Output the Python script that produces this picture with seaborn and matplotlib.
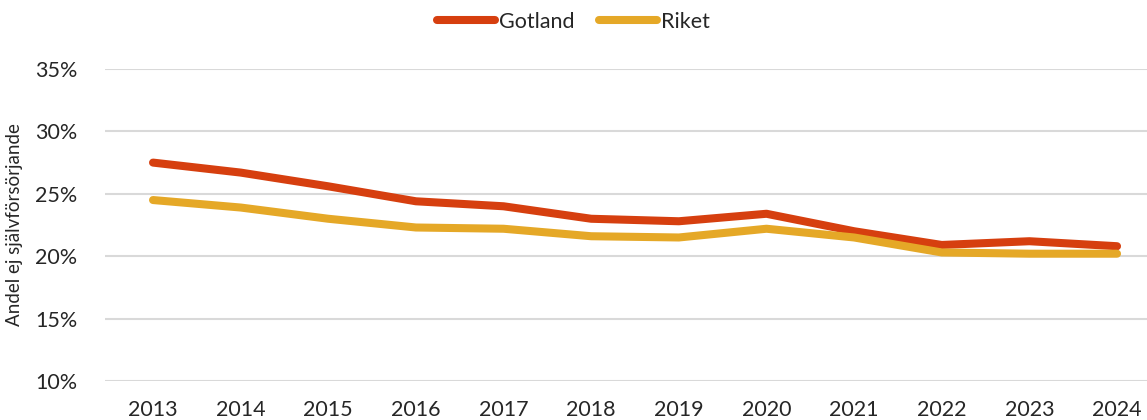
import matplotlib
matplotlib.use("Agg")
import matplotlib.pyplot as plt
from matplotlib.lines import Line2D
import pandas as pd
import seaborn as sns

years = [2013, 2014, 2015, 2016, 2017, 2018, 2019, 2020, 2021, 2022, 2023, 2024]
gotland = [27.5, 26.7, 25.6, 24.4, 24.0, 23.0, 22.8, 23.4, 22.0, 20.9, 21.2, 20.8]
riket = [24.5, 23.9, 23.0, 22.3, 22.2, 21.6, 21.5, 22.2, 21.5, 20.3, 20.2, 20.2]
series_names = ["Gotland", "Riket"]
colors = ["#D63F0F", "#E5A827"]
yticks = [10, 15, 20, 25, 30, 35]

df = pd.DataFrame({
    "År": years * 2,
    "Andel": gotland + riket,
    "Serie": [series_names[0]] * len(years) + [series_names[1]] * len(years),
})

sns.set_style("white")
plt.rcParams["font.family"] = ["Lato", "DejaVu Sans"]

fig = plt.figure(figsize=(11.47, 4.2), dpi=100)
ax = fig.add_axes([105 / 1147, 1 - 381 / 420, 1 - 105 / 1147, (381 - 69) / 420])

sns.lineplot(data=df, x="År", y="Andel", hue="Serie", palette=colors,
             linewidth=5.8, ax=ax, legend=False,
             solid_capstyle="round", solid_joinstyle="round", zorder=3)

ax.set_xlim(2012.452, 2024.342)
ax.set_ylim(10, 35)
ax.set_yticks(yticks)
ax.set_yticklabels([f"{v}%" for v in yticks])
ax.set_xticks(years)
ax.set_xticklabels([str(y) for y in years])
ax.tick_params(axis="both", length=0, labelsize=15.5, colors="#262626")
ax.tick_params(axis="y", pad=20)
ax.tick_params(axis="x", pad=14)
ax.yaxis.grid(True, color="#D9D9D9", linewidth=1.5, zorder=0)
ax.xaxis.grid(False)
for s in ax.spines.values():
    s.set_visible(False)
ax.set_xlabel("")
ax.set_ylabel("Andel ej självförsörjande", fontsize=13.5, color="#262626")
ax.yaxis.set_label_coords(-82 / 1042, 0.5)

handles = [Line2D([0], [0], color=c, linewidth=5.8, solid_capstyle="round") for c in colors]
fig.legend(handles, series_names, loc="center", bbox_to_anchor=(0.5, 1 - 22 / 420),
           ncol=2, frameon=False, fontsize=15.5, handlelength=2.7, handletextpad=0.2,
           columnspacing=1.1, labelcolor="#262626")

fig.savefig("out.png", dpi=100)
